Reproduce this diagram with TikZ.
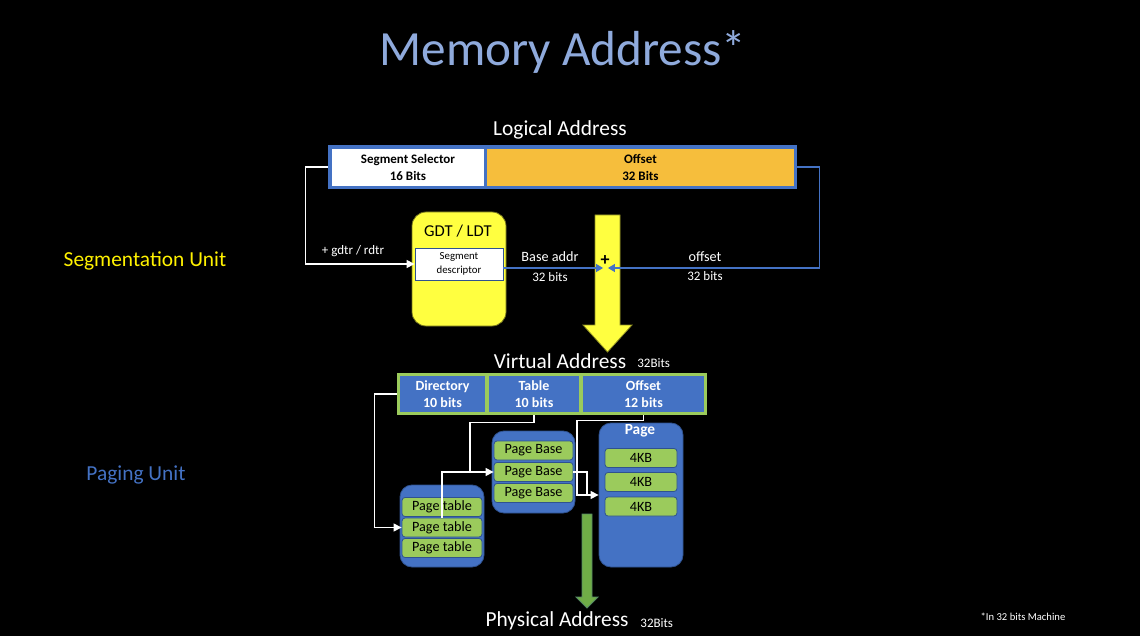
\documentclass[tikz,border=0pt]{standalone}
\usepackage{fontspec}
\setmainfont{Carlito}
\usetikzlibrary{arrows.meta}
\definecolor{ttlblue}{HTML}{8FAADC}
\definecolor{msblue}{HTML}{4472C4}
\definecolor{dkblue}{HTML}{2F528F}
\definecolor{msorange}{HTML}{F6BE3C}
\definecolor{msyellow}{HTML}{FFFF40}
\definecolor{msgreen}{HTML}{70AD47}
\definecolor{ltgreen}{HTML}{9BCB5C}

\begin{document}
\begin{tikzpicture}[x=0.5pt, y=-0.5pt, >={Triangle[length=4pt,width=4pt]},
  lbl/.style={text=white, font=\fontsize{10.7}{12}\selectfont, inner sep=0},
  sml/.style={text=white, font=\fontsize{6.5}{8}\selectfont, inner sep=0},
  cell/.style={inner sep=0, align=center, font=\bfseries\fontsize{6.5}{8.5}\selectfont},
  cellw/.style={cell, fill=white, minimum height=18.5pt},
  cello/.style={cell, fill=msorange, minimum height=18.5pt},
  vcell/.style={cell, fill=msblue, text=white, minimum height=18pt, font=\bfseries\fontsize{7}{8.5}\selectfont},
  grp/.style={fill=msblue, draw=dkblue, line width=0.4pt, rounded corners=6pt, inner sep=0},
  row/.style={fill=ltgreen, draw=dkblue, line width=0.4pt, rounded corners=1.5pt, inner sep=0,
    minimum height=9.5pt, font=\fontsize{7.1}{8}\selectfont},
  wire/.style={white, line width=0.6pt},
  bwire/.style={msblue, line width=0.6pt}]
% background
\fill[black] (0,0) rectangle (1140,636);
\useasboundingbox (0,0) rectangle (1140,636);
\node[text=ttlblue, font=\fontsize{24.6}{30}\selectfont, inner sep=0] (title) at (563,52) {Memory Address*};
\node[text=yellow, font=\fontsize{10.7}{12}\selectfont, inner sep=0] (segu) at (145,261) {Segmentation Unit};
\node[text=msblue, font=\fontsize{10.7}{12}\selectfont, inner sep=0] (pagu) at (136,475) {Paging Unit};
% Logical address
\node[lbl] (lalab) at (560,130) {Logical Address};
\node[fill=msblue, minimum width=234.5pt, minimum height=22pt, inner sep=0] (la) at (562.5,167) {};
\node[cellw, minimum width=76pt] (sel) at (408,167.5) {Segment Selector\\16 Bits};
\node[cello, minimum width=153.5pt] (ofs) at (640.5,167.5) {Offset\\32 Bits};
% GDT / LDT
\node[fill=msyellow, draw=black!55!msyellow, line width=0.4pt, rounded corners=7pt,
  minimum width=47pt, minimum height=57pt, inner sep=0] (gdt) at (459,269) {};
\node[inner sep=0, font=\fontsize{8.3}{10}\selectfont] (gdtlab) at (458,231) {GDT / LDT};
\node[fill=white, draw=dkblue, line width=0.4pt, minimum width=44pt, minimum height=16pt,
  inner sep=0, align=center, font=\fontsize{5.4}{7}\selectfont] (desc) at (459,264) {Segment\\descriptor};
% segmentation arrow
\fill[msyellow, draw=black!45!msyellow, line width=0.4pt]
  (595,215) -- (620,215) -- (620,325) -- (632,325) -- (607.5,352) -- (583,325) -- (595,325) -- cycle;
\coordinate (sum) at (605.5,268);
\draw[wire, ->] (la.west) -- ++(-22,0) |- (desc.west);
\node[sml] (gdtr) at (353,251) {+ gdtr / rdtr};
\draw[bwire, ->, >={Triangle[length=3.5pt,width=4pt]}, shorten >=1.2pt] (desc.east |- sum) -- (sum);
\draw[bwire, ->, >={Triangle[length=3.5pt,width=4pt]}, shorten >=1.2pt] (la.east) -- ++(22,0) |- (sum);
\node[inner sep=0, font=\bfseries\fontsize{9}{10}\selectfont] (plus) at (605,261) {+};
\node[sml, font=\fontsize{7.1}{8}\selectfont] (basel) at (550,257) {Base addr};
\node[sml] (baseb) at (550,277) {32 bits};
\node[sml, font=\fontsize{7.1}{8}\selectfont] (offl) at (705,257) {offset};
\node[sml] (offb) at (705,276) {32 bits};
% Virtual address
\node[lbl] (valab) at (560,361) {Virtual Address};
\node[sml, anchor=west] (vabits) at (637,363) {32Bits};
\node[fill=ltgreen, minimum width=155pt, minimum height=21pt, inner sep=0] (va) at (552,394) {};
\node[vcell, minimum width=42.5pt] (dir) at (442.5,394) {Directory\\10 bits};
\node[vcell, minimum width=45pt] (tab) at (534,394) {Table\\10 bits};
\node[vcell, minimum width=60.5pt] (off) at (643.5,394) {Offset\\12 bits};
% Page table / page base / page
\node[grp, minimum width=42pt, minimum height=41pt] (ptg) at (442,526) {};
\node[row, minimum width=40pt] (pt1) at (442,507) {Page table};
\node[row, minimum width=40pt] (pt2) at (442,527.5) {Page table};
\node[row, minimum width=40pt] (pt3) at (442,548) {Page table};
\node[grp, minimum width=41.5pt, minimum height=41pt] (pbg) at (533.5,472) {};
\node[row, minimum width=39.5pt] (pb1) at (533.5,450.5) {Page Base};
\node[row, minimum width=39.5pt] (pb2) at (533.5,472) {Page Base};
\node[row, minimum width=39.5pt] (pb3) at (533.5,493) {Page Base};
\node[grp, minimum width=42pt, minimum height=72pt] (pg) at (641,495) {};
\node[inner sep=0, text=white, font=\bfseries\fontsize{7.7}{9}\selectfont] (pglab) at (640,431) {Page};
\node[row, minimum width=36pt] (kb1) at (641,458) {4KB};
\node[row, minimum width=36pt] (kb2) at (641,482) {4KB};
\node[row, minimum width=36pt] (kb3) at (641,506.5) {4KB};
% paging wires
\coordinate (jA) at (470,472);
\coordinate (jB) at (587,495);
\coordinate (jC) at (577,495);
\draw[wire, ->] (va.west) -- ++(-22,0) |- (pt2.west);
\draw[wire, ->] (tab.south |- va.south) -- ++(0,7) -| (jA) -- (pb2.west);
\draw[wire] (pt2.north) -- (pt2.north |- jA) -- (jA);
\draw[wire, ->] (off.south |- va.south) -- ++(0,5) -| (jC) -- (pg.west);
\draw[wire] (pb2.east) -| (jB);
% paging arrow
\fill[msgreen, draw=dkblue!40!msgreen, line width=0.4pt]
  (582,514) -- (592,514) -- (592,597) -- (598,597) -- (587,608) -- (576,597) -- (582,597) -- cycle;
\node[lbl] (palab) at (557,621) {Physical Address};
\node[sml, anchor=west] (pabits) at (640,623) {32Bits};
\node[sml, font=\fontsize{5.3}{6}\selectfont] (note) at (1023,617) {*In 32 bits Machine};
\end{tikzpicture}
\end{document}
